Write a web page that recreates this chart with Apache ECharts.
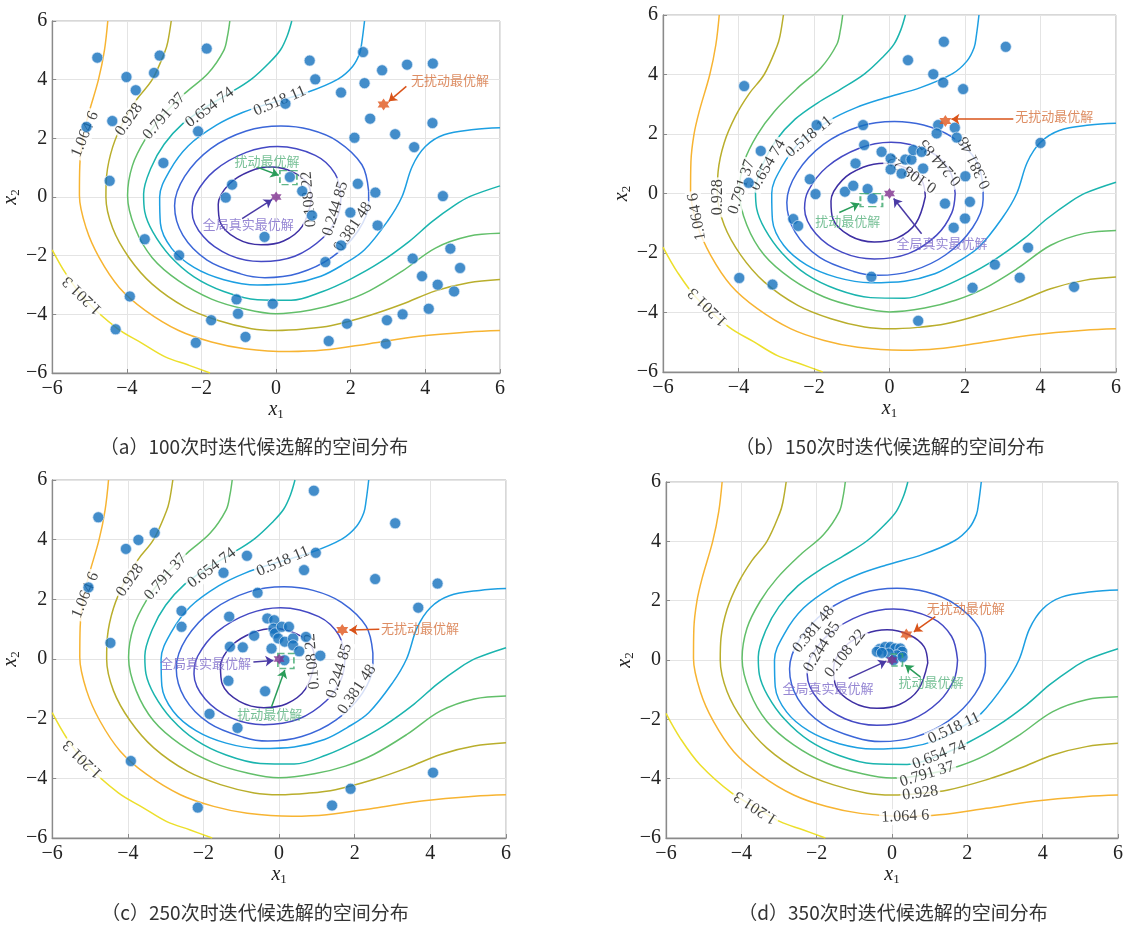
<!DOCTYPE html>
<html><head><meta charset="utf-8">
<script src="https://cdn.jsdelivr.net/npm/echarts/dist/echarts.min.js"></script>
<style>html,body{margin:0;padding:0;background:#fff}#c{width:1126px;height:925px}</style>
</head><body><div id="c"></div>
<script>
// ---------- contour levels (shared objective function) ----------
const levelNames = ['0.108 22','0.244 85','0.381 48','0.518 11','0.654 74','0.791 37','0.928','1.064 6','1.201 3'];
const c108 = [[0.95,-0.1],[0.85,0.45],[0.45,0.85],[-0.13,1.02],[-0.7,0.88],[-1.25,0.45],[-1.55,-0.25],[-1.5,-0.85],[-1.05,-1.42],[-0.4,-1.63],[0.2,-1.5],[0.7,-1.0],[0.95,-0.1]];
const c245 = [[1.74,0.0],[1.58,0.8],[1.05,1.42],[0.04,1.72],[-0.8,1.52],[-1.65,0.9],[-2.15,0.1],[-2.25,-0.5],[-1.95,-1.35],[-1.25,-1.98],[-0.4,-2.2],[0.5,-2.02],[1.25,-1.4],[1.65,-0.65],[1.74,0.0]];
const c381 = [[2.48,0.2],[2.3,1.1],[1.65,1.9],[0.9,2.3],[0.13,2.42],[-0.8,2.25],[-1.75,1.65],[-2.45,0.7],[-2.72,-0.3],[-2.5,-1.3],[-1.85,-2.15],[-0.95,-2.62],[-0.3,-2.75],[0.6,-2.6],[1.5,-2.05],[2.2,-1.15],[2.48,-0.2],[2.48,0.2]];
const c518 = [[2.37,6],[2.3,5.3],[2.24,4.9],[2.05,4.45],[1.66,4.02],[0.82,3.56],[-0.15,3.2],[-0.9,2.88],[-1.6,2.45],[-2.35,1.75],[-2.85,0.9],[-3.12,0.0],[-3.1,-0.9],[-2.8,-1.75],[-2.2,-2.4],[-1.4,-2.82],[-0.5,-3.0],[0.4,-2.95],[1.2,-2.7],[1.8,-2.3],[2.37,-1.8],[3.0,-0.8],[3.37,0.0],[3.65,1.05],[4.0,1.72],[4.5,2.12],[5.3,2.3],[6,2.36]];
const c654 = [[0.42,6],[0.3,5.5],[0.12,5.02],[-0.15,4.62],[-0.66,4.02],[-1.3,3.5],[-1.9,3.05],[-2.5,2.5],[-3.0,1.8],[-3.35,1.0],[-3.55,0.1],[-3.52,-0.5],[-3.3,-1.2],[-2.85,-2.0],[-2.2,-2.72],[-1.4,-3.22],[-0.5,-3.5],[0.4,-3.52],[1.25,-3.22],[2.02,-2.78],[2.77,-2.24],[3.57,-1.51],[4.18,-0.84],[4.8,-0.27],[5.2,0.02],[6,0.38]];
const c791 = [[-1.24,6],[-1.3,5.5],[-1.4,5.0],[-1.82,4.22],[-2.43,3.55],[-3.05,2.76],[-3.5,1.98],[-3.85,1.07],[-3.98,0.05],[-3.78,-1.06],[-3.32,-2.07],[-2.61,-2.86],[-1.73,-3.48],[-0.84,-3.82],[0,-3.98],[0.93,-3.85],[1.75,-3.59],[2.5,-3.2],[3.39,-2.52],[4.27,-1.74],[5.16,-1.34],[6,-1.24]];
const c928 = [[-2.81,6],[-2.9,5.3],[-2.98,4.95],[-3.32,4.0],[-3.72,3.35],[-4.08,2.6],[-4.38,1.7],[-4.54,0.74],[-4.56,0.0],[-4.38,-1.06],[-3.94,-2.07],[-3.32,-2.97],[-2.43,-3.76],[-1.55,-4.21],[-0.66,-4.49],[0,-4.55],[0.75,-4.5],[1.49,-4.38],[2.5,-4.04],[3.39,-3.65],[4.27,-3.2],[5.16,-2.92],[6,-2.81]];
const c1064 = [[-4.51,6],[-4.6,5.0],[-4.76,4.0],[-5.04,2.76],[-5.18,1.98],[-5.26,1.07],[-5.27,0.05],[-5.09,-1.06],[-4.74,-2.07],[-4.2,-3.09],[-3.5,-3.87],[-2.61,-4.55],[-1.73,-4.94],[-0.84,-5.17],[0.35,-5.27],[1.26,-5.22],[2.5,-5.0],[3.83,-4.75],[5.16,-4.6],[6,-4.55]];
const c1201 = [[-6,-1.8],[-5.62,-2.64],[-5.09,-3.54],[-4.25,-4.49],[-3.6,-4.98],[-2.97,-5.45],[-2.35,-5.73],[-1.77,-6.0]];
const contours = [c108,c245,c381,c518,c654,c791,c928,c1064,c1201];

// ---------- candidate solutions per panel ----------
const ptsA = [[-4.79,4.75],[-4.01,4.09],[-3.76,3.64],[-3.27,4.23],[-3.12,4.82],[-1.86,5.06],[-4.39,2.59],[-5.08,2.39],[-2.09,2.24],[-3.02,1.16],[-4.46,0.55],[-3.52,-1.44],[-2.6,-1.99],[-3.92,-3.39],[-4.30,-4.51],[-2.15,-4.97],[-1.74,-4.2],[-1.06,-3.49],[-1.02,-3.98],[-0.82,-4.77],[-0.09,-3.64],[-1.18,0.42],[-1.35,-0.02],[-0.31,-1.36],[0.37,0.68],[0.70,0.20],[0.96,-0.63],[0.25,3.18],[0.90,4.65],[1.05,4.01],[1.74,3.56],[2.33,4.94],[2.37,3.88],[2.84,4.32],[3.51,4.51],[4.2,4.55],[2.52,2.67],[3.19,2.14],[4.19,2.52],[2.1,2.02],[3.70,1.70],[2.19,0.45],[2.66,0.15],[4.47,0.03],[1.99,-0.53],[2.72,-0.97],[1.32,-2.22],[1.74,-1.65],[3.66,-2.10],[4.67,-1.76],[4.93,-2.42],[3.91,-2.70],[4.33,-2.99],[4.77,-3.22],[4.09,-3.81],[3.39,-4.0],[2.97,-4.2],[1.9,-4.32],[1.41,-4.91],[2.94,-5.0]];
const ptsB = [[-3.85,3.61],[-3.41,1.43],[-3.73,0.36],[-3.98,-2.84],[-3.10,-3.06],[-2.11,0.48],[-1.96,-0.02],[-2.55,-0.86],[-2.42,-1.09],[-1.93,2.30],[-0.70,2.30],[-0.67,1.63],[-0.90,1.01],[-0.21,1.40],[-1.18,0.06],[-0.96,0.26],[-0.58,0.15],[-0.45,-0.17],[0.03,1.18],[0.03,0.81],[0.32,0.67],[0.42,1.14],[0.58,1.14],[0.63,1.46],[0.85,1.40],[0.89,0.84],[0.49,4.48],[1.16,4.01],[1.42,3.73],[1.44,5.10],[1.95,3.51],[3.08,4.93],[1.29,2.30],[1.25,2.02],[1.73,2.21],[1.78,1.88],[2.01,0.58],[1.47,-0.34],[2.13,-0.28],[2.0,-0.84],[1.70,-1.15],[4.0,1.70],[3.67,-1.82],[2.79,-2.39],[2.20,-3.17],[3.45,-2.83],[4.89,-3.14],[-0.48,-2.80],[0.76,-4.28]];
const ptsC = [[-4.78,4.75],[-4.05,3.69],[-3.72,3.99],[-3.29,4.23],[-5.04,2.40],[-4.46,0.54],[-2.58,1.61],[-2.58,1.08],[-1.47,2.89],[-0.85,3.46],[-0.57,2.22],[0.66,2.98],[0.97,3.56],[0.92,5.64],[3.07,4.55],[2.54,2.68],[4.19,2.53],[3.68,1.72],[-1.32,1.42],[-1.30,0.41],[-0.96,0.39],[-0.66,0.78],[-1.34,-0.73],[-0.37,-1.08],[-1.84,-1.84],[-1.10,-2.31],[-3.92,-3.42],[-2.15,-4.98],[1.40,-4.91],[1.89,-4.35],[4.07,-3.81],[1.09,0.11],[-0.20,0.35],[-0.31,1.36],[-0.13,1.30],[-0.15,1.02],[-0.11,0.86],[0.07,1.08],[0.26,1.08],[-0.02,0.69],[0.15,0.58],[0.37,0.69],[0.37,0.46],[0.53,0.26],[0.71,0.74],[0.14,-0.04]];
const ptsD = [[-0.33,0.37],[-0.40,0.28],[-0.18,0.44],[-0.04,0.44],[0.09,0.39],[0.22,0.39],[0.27,0.28],[0.13,0.16],[-0.09,0.22],[-0.27,0.24],[0.04,0.0],[0.28,0.1]];

// ---------- special solutions per panel: [unperturbed, perturbed, global] ----------
const optA = [[2.88,3.15],[0.33,0.66],[0,0]];
const optB = [[1.48,2.44],[-0.48,-0.22],[0,0]];
const optC = [[1.67,0.97],[0.18,-0.07],[0,0]];
const optD = [[0.38,0.86],[0.12,0.0],[0,0]];

// annotation arrows [from, to] for [unperturbed, perturbed, global]
const arrA = [[[3.49,3.77],[3.02,3.26]],[[-0.51,1.02],[0.07,0.74]],[[-0.91,-0.74],[-0.11,-0.09]]];
const arrB = [[[3.28,2.5],[1.64,2.5]],[[-1.33,-0.64],[-0.80,-0.34]],[[0.85,-1.35],[0.11,-0.17]]];
const arrC = [[[2.65,1.0],[1.86,0.97]],[[-0.20,-1.60],[0.15,-0.37]],[[-0.68,-0.10],[-0.15,-0.05]]];
const arrD = [[[1.15,1.46],[0.58,0.95]],[[0.75,-0.57],[0.35,-0.17]],[[-1.15,-0.62],[-0.15,-0.04]]];
// annotation text anchors (left edge) for [unperturbed, perturbed, global]
const annoNames = ['无扰动最优解','扰动最优解','全局真实最优解'];
const txtA = [[3.6,3.98],[-1.13,1.22],[-1.98,-0.93]];
const txtB = [[3.32,2.60],[-1.98,-0.92],[0.17,-1.68]];
const txtC = [[2.68,1.05],[-1.12,-1.83],[-3.16,-0.15]];
const txtD = [[0.91,1.76],[0.16,-0.74],[-2.92,-0.93]];

// contour label placement: [levelIndex, x, y, rotation]
const labA = [[0,0.88,-0.08,95],[1,1.59,-0.40,73],[2,2.06,-1.02,56],[3,0.10,3.27,23],[4,-1.78,3.05,37],[5,-3.0,2.75,49],[6,-3.94,2.64,55],[7,-5.12,2.14,67],[8,-5.19,-3.35,136]];
const labB = [[0,0.6,0.68,146],[1,1.35,1.05,131],[2,2.26,1.04,116],[3,-2.13,1.91,40],[4,-3.22,0.95,60],[5,-3.92,0.22,72],[6,-4.54,-0.13,90],[7,-5.1,-0.78,100],[8,-4.81,-3.81,136]];
const labC = labA;
const labD = [[0,-1.24,0.22,52],[1,-1.86,0.44,58],[2,-2.08,1.03,50],[3,1.65,-2.3,25],[4,1.25,-3.2,21],[5,0.93,-3.85,17],[6,0.75,-4.49,8],[7,0.35,-5.27,3],[8,-3.62,-4.97,147]];

const captions = ['（a）100次时迭代候选解的空间分布','（b）150次时迭代候选解的空间分布','（c）250次时迭代候选解的空间分布','（d）350次时迭代候选解的空间分布'];

// ---------- styling ----------
const palette = ['#3e2fa3','#4449c4','#3b66d8','#1d9fe2','#1ab4ae','#62bf6a','#b9ae2c','#f7b432','#ecdf2b'];
const annoText = ['#d4703c','#55b07c','#7a68c8'];
const annoArrow = ['#d95319','#2a9d5a','#4a3aa5'];
const grids = [
  {left:52, top:21, width:448, height:352},
  {left:663, top:15, width:453, height:357},
  {left:49, top:480, width:457, height:358},
  {left:666, top:482, width:452, height:356}
];
const capPos = [[254,447],[890,447],[255,913],[893,913]];
const pboxSize = [[17,14],[22,13],[16,15],[12,12]];
const HEX = 'path://M0,-10L2.887,-5L8.66,-5L5.774,0L8.66,5L2.887,5L0,10L-2.887,5L-8.66,5L-5.774,0L-8.66,-5L-2.887,-5Z';

const panels = [
  {pts:ptsA, opt:optA, arr:arrA, txt:txtA, lab:labA},
  {pts:ptsB, opt:optB, arr:arrB, txt:txtB, lab:labB},
  {pts:ptsC, opt:optC, arr:arrC, txt:txtC, lab:labC},
  {pts:ptsD, opt:optD, arr:arrD, txt:txtD, lab:labD}
];

const fmt = v => v < 0 ? '\u2212' + Math.abs(v) : String(v);
const serif = 'Liberation Serif';
const nameRich = {
  i:{fontFamily:serif, fontStyle:'italic', fontSize:20, color:'#222', lineHeight:22},
  s:{fontFamily:serif, fontSize:13, color:'#222', lineHeight:10, verticalAlign:'bottom'}
};
const xAxes = [], yAxes = [], series = [];
panels.forEach((p, i) => {
  const axisCommon = {
    gridIndex:i, type:'value', min:-6, max:6, interval:2,
    axisLine:{show:true, onZero:false, lineStyle:{color:'#8a8a8a', width:1.3}},
    axisTick:{show:true, inside:true, length:4, lineStyle:{color:'#8a8a8a'}},
    axisLabel:{formatter:fmt, fontFamily:serif, fontSize:20, color:'#222', margin:6},
    splitLine:{show:true, lineStyle:{color:'#e4e4e4', width:1}},
    nameLocation:'middle', nameTextStyle:{rich:nameRich}
  };
  xAxes.push(Object.assign({}, axisCommon, {position:'bottom', name:'{i|x}{s|1}', nameGap:25}));
  yAxes.push(Object.assign({}, axisCommon, {position:'left', name:'{i|x}{s|2}', nameGap:28,
    axisLabel:{formatter:fmt, fontFamily:serif, fontSize:20, color:'#222', margin:5}}));
  // contour lines
  contours.forEach((c, k) => {
    series.push({type:'line', xAxisIndex:i, yAxisIndex:i, data:c, smooth:0.35, symbol:'none',
      lineStyle:{color:palette[k], width:1.5}, silent:true, z:2});
  });
  // contour labels
  series.push({type:'scatter', xAxisIndex:i, yAxisIndex:i, symbolSize:1, silent:true, z:3,
    itemStyle:{color:'rgba(0,0,0,0)'},
    label:{show:true, position:'inside', formatter:'{b}', fontFamily:serif, fontSize:16, color:'#111',
      backgroundColor:'#fff', padding:[0,2]},
    data:p.lab.map(l => ({name:levelNames[l[0]], value:[l[1], l[2]], label:{rotate:l[3]}}))});
  // candidate solutions
  series.push({type:'scatter', xAxisIndex:i, yAxisIndex:i, data:p.pts, symbolSize:11, silent:true, z:4,
    itemStyle:{color:'#1471bd', borderColor:'rgba(215,232,248,0.85)', borderWidth:1}});
  // perturbed optimum box
  series.push({type:'scatter', xAxisIndex:i, yAxisIndex:i, data:[p.opt[1]], symbol:'rect', symbolSize:pboxSize[i], silent:true, z:5,
    itemStyle:{color:'rgba(0,0,0,0)', borderColor:'#3aa66a', borderWidth:1.6, borderType:'dashed'}});
  // global optimum
  series.push({type:'scatter', xAxisIndex:i, yAxisIndex:i, data:[p.opt[2]], symbol:HEX, symbolSize:11, silent:true, z:6,
    itemStyle:{color:'#7e2f8e'}});
  // unperturbed optimum
  series.push({type:'scatter', xAxisIndex:i, yAxisIndex:i, data:[p.opt[0]], symbol:HEX, symbolSize:12, silent:true, z:6,
    itemStyle:{color:'#e0561c'}});
  // arrows
  series.push({type:'lines', coordinateSystem:'cartesian2d', xAxisIndex:i, yAxisIndex:i, silent:true, z:7,
    symbol:['none','arrow'], symbolSize:8,
    data:p.arr.map((a, k) => ({coords:a, lineStyle:{color:annoArrow[k], width:1.5, opacity:1}}))});
  // annotation text
  series.push({type:'scatter', xAxisIndex:i, yAxisIndex:i, symbolSize:1, silent:true, z:8,
    itemStyle:{color:'rgba(0,0,0,0)'},
    label:{show:true, position:'right', distance:0, fontFamily:'Noto Sans CJK SC', fontSize:13},
    data:p.txt.map((t, k) => ({name:annoNames[k], value:t, label:{formatter:annoNames[k], color:annoText[k]}}))});
});

const graphic = captions.map((t, i) => ({
  type:'text', x:capPos[i][0], y:capPos[i][1], silent:true,
  style:{text:t, font:'19px "Noto Sans CJK SC"', fill:'#333', align:'center', verticalAlign:'middle',
    textAlign:'center', textVerticalAlign:'middle'}
}));

const chart = echarts.init(document.getElementById('c'), null, {renderer:'canvas'});
chart.setOption({
  animation:false, backgroundColor:'#fff',
  grid:grids.map(g => Object.assign({show:true, borderColor:'#b0b0b0', borderWidth:1, containLabel:false}, g)),
  xAxis:xAxes, yAxis:yAxes, series:series, graphic:graphic
});
</script></body></html>
